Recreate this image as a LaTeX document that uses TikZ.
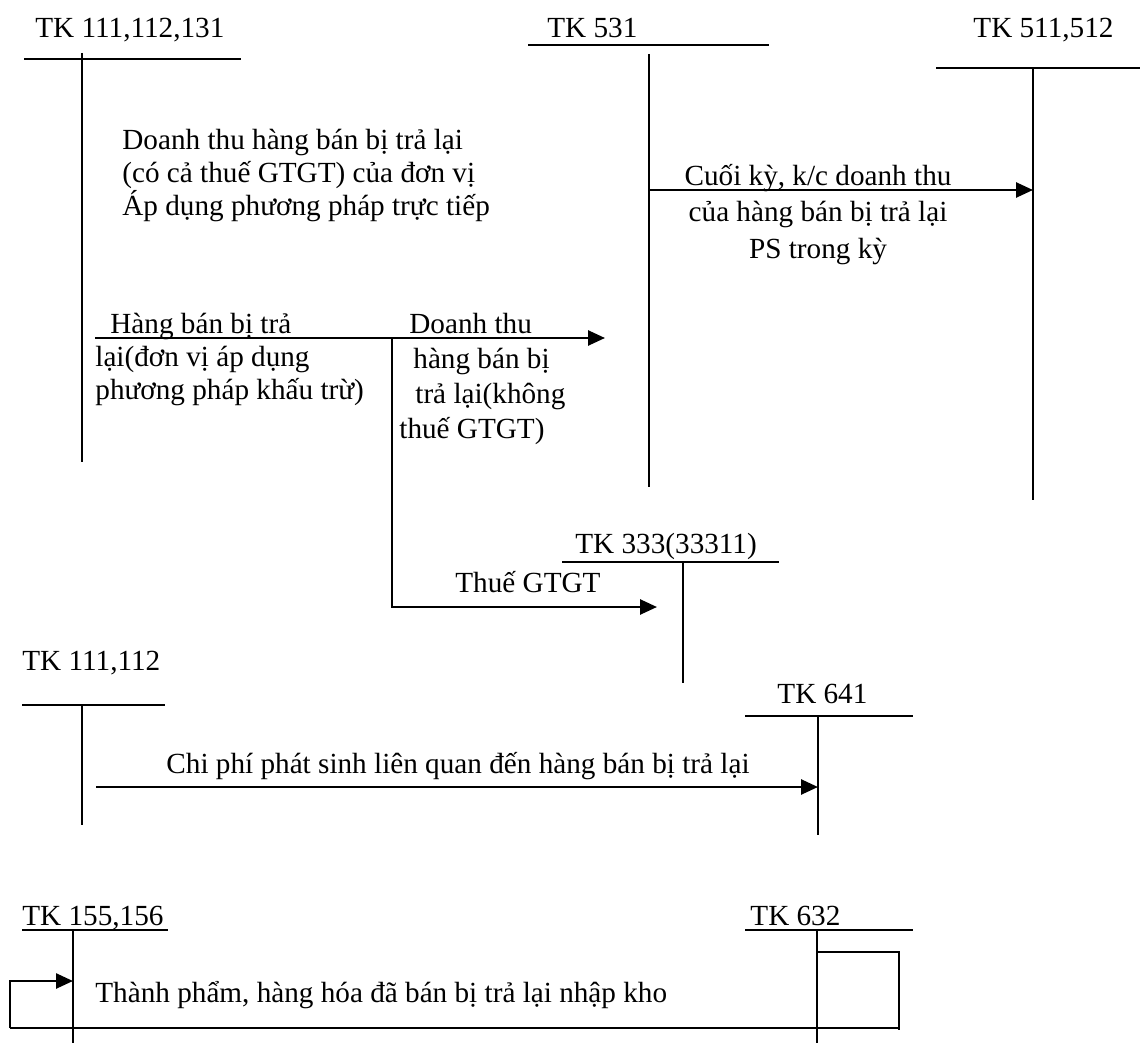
\documentclass[tikz,border=0pt]{standalone}
\usepackage{fontspec}
\setmainfont{Liberation Serif}
\usetikzlibrary{arrows.meta}

\newcommand*{\picw}{1140}
\newcommand*{\pich}{1043}

\begin{document}
\begin{tikzpicture}
[
	x=0.5pt, y=-0.5pt,
	headline/.style={line width=1pt},
	stem/.style={line width=0.75pt},
	flow/.style={line width=1.3pt,-{Triangle[length=8.5pt,width=7.5pt]}},
	bar/.style={line width=1.1pt},
	acct/.style={anchor=base west,inner sep=0pt,font=\fontsize{14.6}{17}\selectfont},
	note/.style={inner sep=0pt,align=left,font=\fontsize{14.6}{16.5}\selectfont}
]
	\useasboundingbox (0,0) rectangle (\picw,\pich);

	% accounts, top row
	\node[acct] (tk111) at (35,38) {TK 111,112,131};
	\draw[headline] (24,59) -- (241,59);
	\draw[stem] (82,53) -- (82,462);

	\node[acct] (tk531) at (547,38) {TK 531};
	\draw[headline] (528,45) -- (769,45);
	\draw[stem] (649,54) -- (649,487);

	\node[acct] (tk511) at (973,38) {TK 511,512};
	\draw[headline] (936,68) -- (\picw,68);
	\draw[stem] (1033,68) -- (1033,500);

	\node[acct] (tk333) at (575,553) {TK 333(33311)};
	\draw[headline] (562,562) -- (779,562);
	\draw[stem] (683,562) -- (683,683);

	% accounts, lower rows
	\node[acct] (tk1112) at (22,670) {TK 111,112};
	\draw[headline] (22,705) -- (165,705);
	\draw[stem] (82,705) -- (82,825);

	\node[acct] (tk641) at (777,703) {TK 641};
	\draw[headline] (745,716) -- (913,716);
	\draw[stem] (818,716) -- (818,835);

	\node[acct] (tk155) at (22,925) {TK 155,156};
	\draw[headline] (22,930) -- (168,930);
	\draw[stem] (73,930) -- (73,\pich);

	\node[acct] (tk632) at (750,925) {TK 632};
	\draw[headline] (745,930) -- (913,930);
	\draw[stem] (817,930) -- (817,\pich);

	% points on the flows
	\coordinate (k531) at (649,190);
	\coordinate (k511) at (1033,190);
	\coordinate (hbsrc) at (95,338);
	\coordinate (hbdst) at (605,338);
	\coordinate (split) at (392,338);
	\coordinate (vat) at (657,607);
	\coordinate (cpsrc) at (96,787);
	\coordinate (cp641) at (818,787);
	\coordinate (r632) at (817,952);
	\coordinate (rturn) at (899,1028);
	\coordinate (rleft) at (10,1028);
	\coordinate (r155) at (73,981);

	% flows
	\draw[flow] (k531) -- (k511);
	\draw[flow] (hbsrc) -- (hbdst);
	\draw[flow] (split) |- (vat);
	\draw[flow] (cpsrc) -- (cp641);
	\draw[bar] (r632) -| (899,1030);
	\draw[bar] (rturn) -- (rleft);
	\draw[flow] (rleft) |- (r155);

	% texts (base = last line)
	\node[note,anchor=base west] (ttt) at (122,216)
	  {Doanh thu hàng bán bị trả lại\\(có cả thuế GTGT) của đơn vị\\Áp dụng phương pháp trực tiếp};
	\node[note,anchor=base,align=center,font=\fontsize{14.6}{18}\selectfont] (kc) at (818,258)
	  {Cuối kỳ, k/c doanh thu\\của hàng bán bị trả lại\\PS trong kỳ};
	\node[note,anchor=base west] (hb) at (95,399)
	  {\hspace*{7.5pt}Hàng bán bị trả\\lại(đơn vị áp dụng\\phương pháp khấu trừ)};
	\node[note,anchor=base west,font=\fontsize{14.6}{17.5}\selectfont] (dt) at (399,438)
	  {\hspace*{5pt}Doanh thu\\\hspace*{7pt}hàng bán bị\\\hspace*{8pt}trả lại(không\\thuế GTGT)};
	\node[note,anchor=base west] (thue) at (455,592) {Thuế GTGT};
	\node[note,anchor=base] (cp) at (458,773) {Chi phí phát sinh liên quan đến hàng bán bị trả lại};
	\node[note,anchor=base west] (tp) at (95,1002) {Thành phẩm, hàng hóa đã bán bị trả lại nhập kho};

\end{tikzpicture}
\end{document}
